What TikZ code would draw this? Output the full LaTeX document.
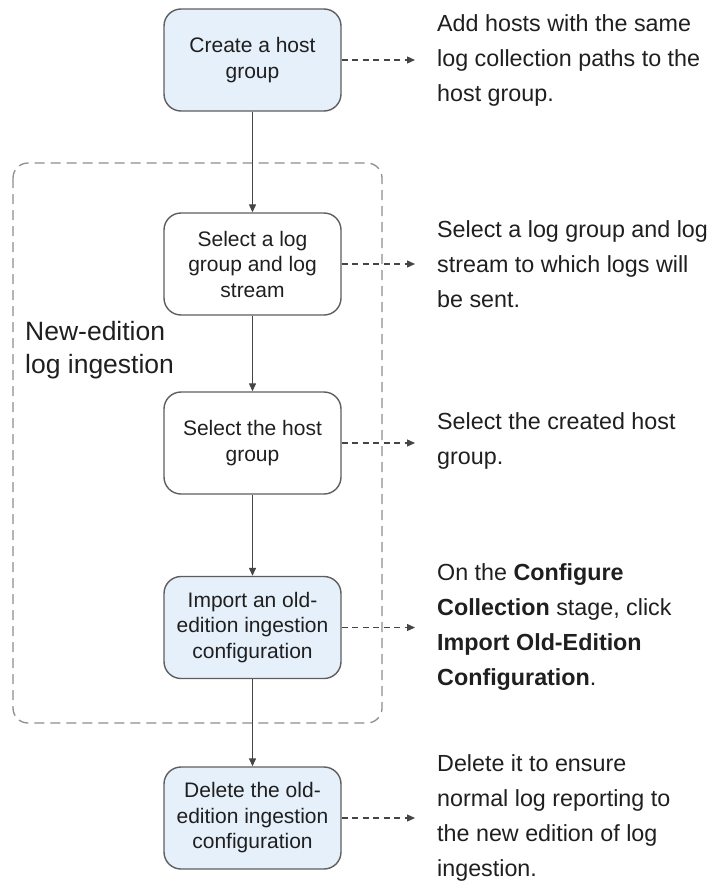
\documentclass[tikz,border=0pt]{standalone}
\usepackage{fontspec}
\setmainfont{Liberation Sans}
\usetikzlibrary{arrows.meta}

\definecolor{boxline}{HTML}{5E5E5E}
\definecolor{boxfill}{HTML}{E6F0FA}
\definecolor{groupline}{HTML}{8E8E8E}
\definecolor{wireline}{HTML}{454545}

\tikzset{
    stepbox/.style={draw=boxline, line width=1.4, rounded corners=17,
        minimum width=177, minimum height=102, inner sep=0,
        align=center, text=black!88, font=\fontsize{21}{25.5}\selectfont},
    oldbox/.style={stepbox, fill=boxfill},
    note/.style={anchor=west, inner sep=0, align=left, text=black!88,
        font=\fontsize{23.3}{35}\selectfont},
    flow/.style={draw=wireline, line width=1.3,
        -{Triangle[length=8, width=7]}},
    hint/.style={draw=wireline, line width=1.3, dash pattern=on 6 off 4.5,
        -{Triangle[length=8, width=7]}, shorten >=22},
}

\begin{document}
\begin{tikzpicture}[x=1pt, y=-1pt]
    \useasboundingbox (0,0) rectangle (707,886);

    % dashed frame round the new-edition steps
    \draw[groupline, line width=1.3, dash pattern=on 10 off 6, rounded corners=15]
        (13,163) rectangle (382,723);
    \node[anchor=west, inner sep=0, align=left, text=black!88,
        font=\fontsize{26.5}{33}\selectfont] (framelabel) at (25,350)
        {New-edition\\log ingestion};

    % steps
    \node[oldbox]  (host)   at (252.5,60)  {Create a host\\group};
    \node[stepbox] (stream) at (252.5,264) {Select a log\\group and log\\stream};
    \node[stepbox] (select) at (252.5,443) {Select the host\\group};
    \node[oldbox]  (import) at (252.5,627.5) {Import an old-\\edition ingestion\\configuration};
    \node[oldbox]  (delete) at (252.5,818) {Delete the old-\\edition ingestion\\configuration};

    % notes on the right
    \node[note] (hostnote) at (437,60)
        {Add hosts with the same\\log collection paths to the\\host group.};
    \node[note] (streamnote) at (437,264)
        {Select a log group and log\\stream to which logs will\\be sent.};
    \node[note] (selectnote) at (437,441)
        {Select the created host\\group.};
    \node[note] (importnote) at (437,627.5)
        {On the \textbf{Configure}\\\textbf{Collection} stage, click\\\textbf{Import Old-Edition}\\\textbf{Configuration}.};
    \node[note] (deletenote) at (437,818)
        {Delete it to ensure\\normal log reporting to\\the new edition of log\\ingestion.};

    % main flow
    \draw[flow] (host) -- (stream);
    \draw[flow] (stream) -- (select);
    \draw[flow] (select) -- (import);
    \draw[flow] (import) -- (delete);

    % pointers to the notes
    \draw[hint] (host) -- (hostnote);
    \draw[hint] (stream) -- (streamnote);
    \draw[hint] (select.east) -- (select.east -| selectnote.west);
    \draw[hint] (import) -- (importnote);
    \draw[hint] (delete) -- (deletenote);
\end{tikzpicture}
\end{document}
